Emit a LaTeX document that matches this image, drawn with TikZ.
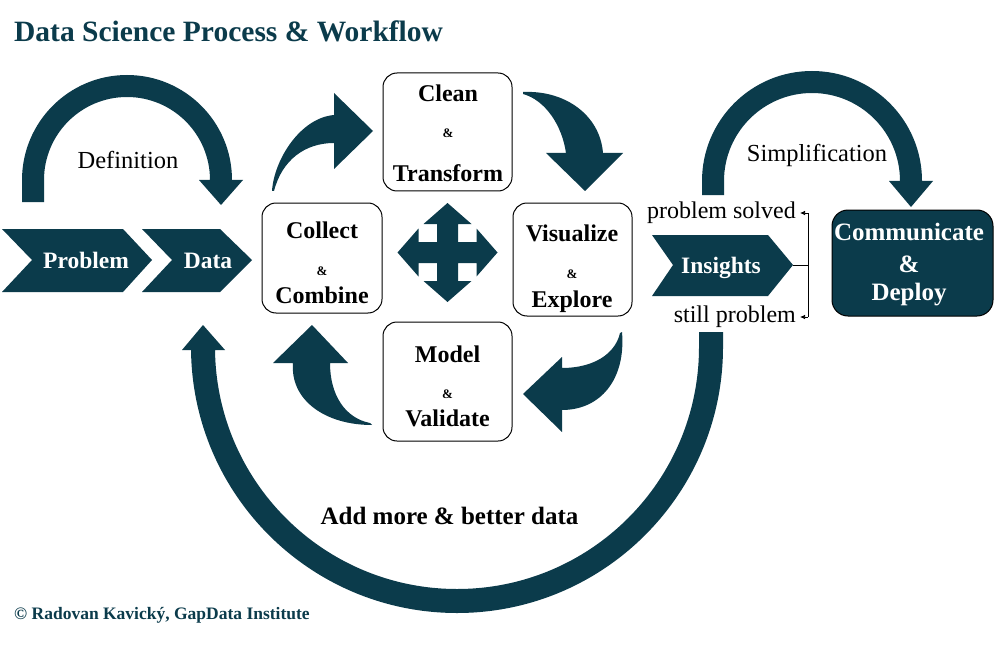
\documentclass[tikz,border=0pt]{standalone}
\usepackage{fontspec}
\setmainfont{Liberation Serif}
\usepackage{tikz}
\usetikzlibrary{arrows.meta}
\definecolor{dsteal}{HTML}{0B3B4B}
\tikzset{
  stepbox/.style={draw=black, line width=1pt, rounded corners=14pt, fill=white},
  word/.style={anchor=base, inner sep=0pt, font=\fontsize{24}{28}\selectfont\bfseries},
  amp/.style={anchor=base, inner sep=0pt, font=\fontsize{13}{15}\selectfont\bfseries},
  chevtext/.style={anchor=base, inner sep=0pt, text=white, font=\fontsize{23.5}{28}\selectfont\bfseries},
  remark/.style={anchor=base, inner sep=0pt, font=\fontsize{24.5}{28}\selectfont},
  branch/.style={anchor=east, inner xsep=4pt, inner ysep=0pt, font=\fontsize{24}{28}\selectfont},
  tinyarrow/.style={line width=0.7pt, -{Latex[length=5pt,width=4.5pt]}},
}
\begin{document}
\begin{tikzpicture}[x=1pt, y=-1pt] %%%{{{
	 \useasboundingbox (0,0) rectangle (995,655);
	 \fill[white] (0,0) rectangle (995,655);
	 \node[anchor=base west, inner sep=0pt, text=dsteal, font=\fontsize{29.5}{34}\selectfont\bfseries] (title) at (14,42) {Data Science Process \& Workflow};

	 % chevrons
	 \fill[dsteal] (2,229) -- (123,229) -- (152,260) -- (123,292) -- (2,292) -- (32,260) -- cycle;
	 \fill[dsteal] (142,229) -- (220,229) -- (252,260) -- (220,292) -- (142,292) -- (172,260) -- cycle;
	 \fill[dsteal] (652,235) -- (768,235) -- (793,265) -- (768,296) -- (652,296) -- (673,265) -- cycle;
	 \node[chevtext] (problem) at (86,268) {Problem};
	 \node[chevtext] (data) at (208,268) {Data};
	 \node[chevtext] (insights) at (721,273) {Insights};

	 % the four steps
	 \foreach \n/\x/\y/\w/\h in {clean/447.5/132/129pt/118pt, collect/322/258/120pt/110pt, visu/572.5/259.5/119pt/113pt, model/447.5/381.5/129pt/119pt}
	   \node[stepbox, minimum width=\w, minimum height=\h] (\n) at (\x,\y) {};
	 \foreach \n/\x/\ya/\yb/\yc/\ta/\tb in {clean/448/102/138/182/Clean/Transform, collect/322/238/275/303/Collect/Combine, visu/572/241/278/307/Visualize/Explore, model/447.5/362/398/426/Model/Validate} {
	   \node[word] (\n A) at (\x,\ya) {\ta};
	   \node[amp] (\n B) at (\x,\yb) {\&};
	   \node[word] (\n C) at (\x,\yc) {\tb};
	 }

	 % curved arrows round the steps
	 \fill[dsteal] (272,191) .. controls (274,160) and (300,118) .. (334,115) -- (334,93) -- (373,131) -- (334,169) -- (334,143) .. controls (305,143) and (282,160) .. (274,191) -- cycle;
	 \fill[dsteal] (523,92) .. controls (565,90) and (600,115) .. (603,153) -- (623,153) -- (585,191) -- (546,153) -- (566,153) .. controls (562,125) and (545,100) .. (523,94) -- cycle;
	 \fill[dsteal] (622,332) .. controls (626,380) and (600,410) .. (562,410) -- (562,432) -- (523,394) -- (562,357) -- (562,368) .. controls (592,368) and (615,355) .. (620,333) -- cycle;
	 \fill[dsteal] (372,425) .. controls (325,425) and (290,400) .. (293,363) -- (273,363) -- (312,325) -- (348,363) -- (330,363) .. controls (330,395) and (345,418) .. (370,423) -- cycle;

	 % four-way arrow
	 \fill[dsteal] (447.5,203) -- (471.5,224) -- (458,224) -- (458,242) -- (476.5,242) -- (476.5,228.5) -- (497.5,252.5) -- (476.5,276.5) -- (476.5,263) -- (458,263) -- (458,281) -- (471.5,281) -- (447.5,302) -- (423.5,281) -- (437,281) -- (437,263) -- (418.5,263) -- (418.5,276.5) -- (397.5,252.5) -- (418.5,228.5) -- (418.5,242) -- (437,242) -- (437,224) -- (423.5,224) -- cycle;

	 % definition
	 \fill[dsteal] (22,202) -- (22,180) arc[start angle=180, end angle=360, radius=105] -- (243,180) -- (221,205) -- (199,180) -- (210,180) arc[start angle=360, end angle=180, radius=83] -- (44,202) -- cycle;
	 \node[remark] (defn) at (128,168) {Definition};

	 % simplification
	 \fill[dsteal] (702,195) -- (702,181) arc[start angle=180, end angle=360, radius=110] -- (933,181) -- (911,207) -- (889,181) -- (900,181) arc[start angle=360, end angle=180, radius=88] -- (724,195) -- cycle;
	 \node[remark] (simpl) at (817,162) {Simplification};

	 % communicate
	 \node[stepbox, fill=dsteal, rounded corners=16pt, minimum width=161pt, minimum height=106pt] (deploy) at (912.5,263) {};
	 \node[chevtext, font=\fontsize{25}{28}\selectfont\bfseries] (deployA) at (909,240) {Communicate};
	 \node[chevtext, font=\fontsize{25}{28}\selectfont\bfseries] (deployB) at (909,272) {\&};
	 \node[chevtext, font=\fontsize{25}{28}\selectfont\bfseries] (deployC) at (909,300) {Deploy};

	 % back loop
	 \fill[dsteal] (723,332) -- (723,347) arc[start angle=0, end angle=180, radius=266] -- (191,350) -- (182,350) -- (203,325) -- (225,350) -- (215,350) -- (215,347) arc[start angle=180, end angle=0, radius=242] -- (699,332) -- cycle;
	 \node[remark, font=\fontsize{25}{28}\selectfont\bfseries] (more) at (449.5,524) {Add more \& better data};

	 % insights bracket
	 \coordinate (I) at (793,265);
	 \coordinate (T) at (808,265);
	 \coordinate (U) at (808,213);
	 \coordinate (V) at (808,317);
	 \node[branch] (solved) at (800,213) {problem solved};
	 \node[branch] (still) at (800,317) {still problem};
	 \draw[line width=0.7pt] (I) -- (T);
	 \draw[line width=0.7pt] (U) -- (V);
	 \draw[tinyarrow] (U) -- (solved.east);
	 \draw[tinyarrow] (V) -- (still.east);

	 \node[anchor=base west, inner sep=0pt, text=dsteal, font=\fontsize{17.5}{20}\selectfont\bfseries] (credit) at (14,619) {© Radovan Kavický, GapData Institute};
      \end{tikzpicture}
\end{document}
